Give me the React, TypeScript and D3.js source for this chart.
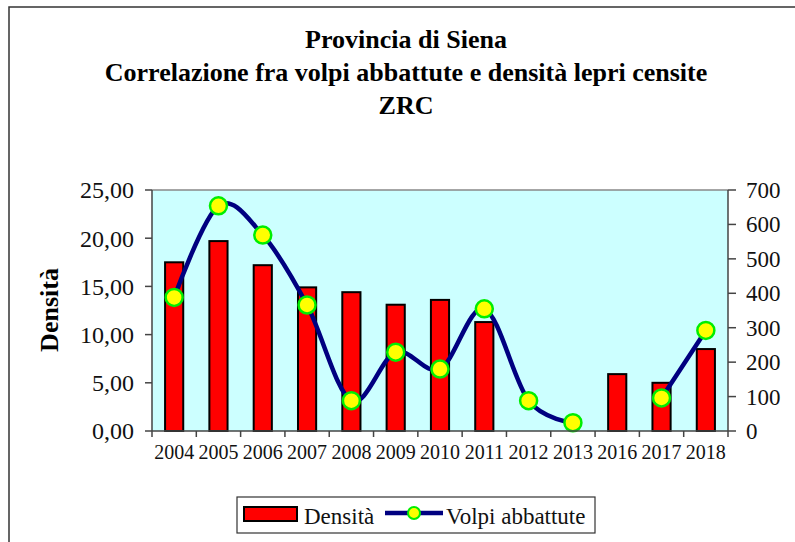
import React from "react";
import * as d3 from "d3";

const years = ["2004", "2005", "2006", "2007", "2008", "2009", "2010", "2011", "2012", "2013", "2016", "2017", "2018"];
const densita: (number | null)[] = [17.5, 19.7, 17.2, 14.9, 14.4, 13.1, 13.6, 11.3, null, null, 5.9, 5.0, 8.5];
const volpi: (number | null)[] = [388, 654, 569, 366, 88, 229, 180, 355, 88, 24, null, 96, 292];
const leftTicks = [0, 5, 10, 15, 20, 25];
const rightTicks = [0, 100, 200, 300, 400, 500, 600, 700];
const titleLines = [
  "Provincia di Siena",
  "Correlazione fra volpi abbattute e densità lepri censite",
  "ZRC",
];

const W = 795;
const H = 542;
const plot = { left: 152, right: 728, top: 190, bottom: 431 };
const ff = { fontFamily: "Liberation Serif, DejaVu Serif, serif" };

export default function App() {
  const x = d3.scaleBand<string>().domain(years).range([plot.left, plot.right]).padding(0);
  const yL = d3.scaleLinear().domain([0, 25]).range([plot.bottom, plot.top]);
  const yR = d3.scaleLinear().domain([0, 700]).range([plot.bottom, plot.top]);
  const barW = x.bandwidth() * 0.41;
  const cx = (yr: string) => (x(yr) as number) + x.bandwidth() / 2;

  const pts = years.map((yr, i) => ({ yr, v: volpi[i] }));
  const line = d3
    .line<{ yr: string; v: number | null }>()
    .defined((d) => d.v !== null)
    .x((d) => cx(d.yr))
    .y((d) => yR(d.v as number))
    .curve(d3.curveCatmullRom.alpha(0));

  const boundaries = years.map((yr) => x(yr) as number).concat([plot.right]);

  return (
    <svg width={W} height={H} style={{ position: "absolute", left: 0, top: 0, background: "#fff" }}>
      <rect x={9} y={7} width={W + 10} height={H + 10} fill="#fff" stroke="#333" strokeWidth={1.5} />
      {titleLines.map((t, i) => (
        <text key={i} x={406} y={48 + i * 33} textAnchor="middle" fontWeight="bold" fontSize={26} fill="#000" style={ff}>
          {t}
        </text>
      ))}

      <rect x={plot.left} y={plot.top} width={plot.right - plot.left} height={plot.bottom - plot.top} fill="#ccffff" />
      <line x1={plot.left} x2={plot.right} y1={plot.top} y2={plot.top} stroke="#888" strokeWidth={1.5} />

      {years.map((yr, i) =>
        densita[i] === null ? null : (
          <rect
            key={yr}
            x={cx(yr) - barW / 2}
            y={yL(densita[i] as number)}
            width={barW}
            height={yL(0) - yL(densita[i] as number)}
            fill="#ff0000"
            stroke="#000"
            strokeWidth={2}
          />
        )
      )}

      <path d={line(pts) || ""} fill="none" stroke="#000080" strokeWidth={4.5} />
      {pts.map((p) =>
        p.v === null ? null : (
          <circle key={p.yr} cx={cx(p.yr)} cy={yR(p.v)} r={8.5} fill="#ffff00" stroke="#00ee00" strokeWidth={2.5} />
        )
      )}

      {/* left axis */}
      <line x1={plot.left} x2={plot.left} y1={plot.top} y2={plot.bottom} stroke="#444" strokeWidth={1.5} />
      {leftTicks.map((t) => (
        <g key={t}>
          <line x1={plot.left - 7} x2={plot.left} y1={yL(t)} y2={yL(t)} stroke="#444" strokeWidth={1.5} />
          <text x={134} y={yL(t)} dy="0.35em" textAnchor="end" fontSize={24} fill="#111" style={ff}>
            {t.toFixed(2).replace(".", ",")}
          </text>
        </g>
      ))}

      {/* right axis */}
      <line x1={plot.right} x2={plot.right} y1={plot.top} y2={plot.bottom} stroke="#444" strokeWidth={1.5} />
      {rightTicks.map((t) => (
        <g key={t}>
          <line x1={plot.right} x2={plot.right + 8} y1={yR(t)} y2={yR(t)} stroke="#444" strokeWidth={1.5} />
          <text x={746} y={yR(t)} dy="0.35em" textAnchor="start" fontSize={23} fill="#111" style={ff}>
            {t}
          </text>
        </g>
      ))}

      {/* bottom axis */}
      <line x1={plot.left} x2={plot.right} y1={plot.bottom} y2={plot.bottom} stroke="#444" strokeWidth={1.5} />
      {boundaries.map((b, i) => (
        <line key={i} x1={b} x2={b} y1={plot.bottom} y2={plot.bottom + 6} stroke="#444" strokeWidth={1.5} />
      ))}
      {years.map((yr) => (
        <text key={yr} x={cx(yr)} y={459} textAnchor="middle" fontSize={20} fill="#111" style={ff}>
          {yr}
        </text>
      ))}

      <text
        transform={`translate(58,310) rotate(-90)`}
        textAnchor="middle"
        fontWeight="bold"
        fontSize={26}
        fill="#000"
        style={ff}
      >
        Densità
      </text>

      {/* legend */}
      <rect x={237} y={497} width={358} height={36} fill="#fff" stroke="#333" strokeWidth={1.2} />
      <rect x={244} y={507} width={53} height={14} fill="#ff0000" stroke="#000" strokeWidth={2} />
      <text x={304} y={524} fontSize={23} fill="#111" style={ff}>Densità</text>
      <line x1={385} x2={443} y1={513} y2={513} stroke="#000080" strokeWidth={4.5} />
      <circle cx={414} cy={513} r={6} fill="#ffff00" stroke="#00ee00" strokeWidth={2} />
      <text x={446} y={524} fontSize={23} fill="#111" style={ff}>Volpi abbattute</text>
    </svg>
  );
}
